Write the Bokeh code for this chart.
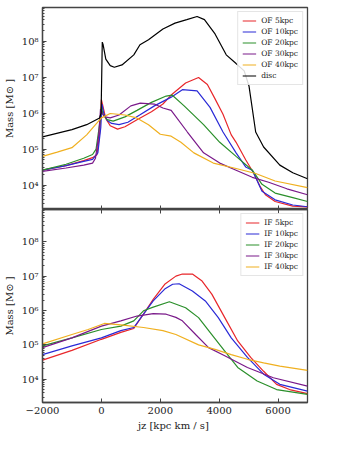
from bokeh.plotting import figure
from bokeh.layouts import column
from bokeh.models import Range1d, FixedTicker, CustomJSTickFormatter, LinearAxis, Legend, LegendItem
from bokeh.embed import file_html
from bokeh.resources import INLINE

# ---------------- data ----------------
disc_x = [-2000, -1000, -500, -60, -10, 30, 60, 150, 300, 440, 700, 1100, 1310, 1600, 2090, 2500, 2900, 3250, 3500, 3860, 4240, 4575, 4850, 5015, 5240, 5510, 6060, 6500, 7000]
disc_y = [2.2e5, 3.5e5, 4.8e5, 7.4e5, 1.0e6, 9.5e7, 8.0e7, 3.2e7, 2.1e7, 1.9e7, 2.2e7, 4.2e7, 8.0e7, 1.1e8, 2.2e8, 3.2e8, 4.0e8, 4.9e8, 4.0e8, 1.6e8, 4.2e7, 2.4e7, 1.5e7, 5.6e6, 3.0e5, 1.15e5, 3.6e4, 2.2e4, 1.5e4]

of5_x = [-2000, -1200, -600, -300, -150, -50, 0, 50, 150, 300, 550, 800, 1210, 1700, 2090, 2370, 2860, 3300, 3600, 3860, 4130, 4410, 4575, 4900, 5180, 5400, 5570, 5900, 6500, 7000]
of5_y = [2.6e4, 3.5e4, 4.8e4, 5.8e4, 7.0e4, 3.2e5, 2.4e6, 1.6e6, 7.0e5, 4.5e5, 3.6e5, 4.2e5, 6.6e5, 1.1e6, 1.8e6, 3.2e6, 6.9e6, 9.8e6, 6.3e6, 2.5e6, 9.3e5, 2.5e5, 1.55e5, 5.1e4, 2.1e4, 8.9e3, 5.4e3, 3.5e3, 2.6e3, 2.5e3]

of10_x = [-2000, -1200, -600, -300, -120, -20, 20, 80, 200, 350, 600, 900, 1300, 1800, 2370, 2750, 3250, 3690, 4130, 4575, 4900, 5125, 5455, 5900, 6500, 7000]
of10_y = [2.6e4, 3.5e4, 4.6e4, 5.2e4, 7.9e4, 4.0e5, 1.8e6, 1.0e6, 6.3e5, 5.2e5, 4.8e5, 5.6e5, 8.9e5, 1.6e6, 2.8e6, 4.5e6, 4.2e6, 1.45e6, 3.0e5, 7.9e4, 3.2e4, 2.6e4, 6.8e3, 3.9e3, 2.8e3, 2.5e3]

of20_x = [-2000, -1200, -600, -300, -180, -60, 0, 60, 200, 400, 800, 1210, 1700, 2200, 2400, 2810, 3470, 4020, 4575, 5125, 5455, 5900, 6500, 7000]
of20_y = [2.6e4, 3.8e4, 5.6e4, 7.1e4, 1.0e5, 5.0e5, 1.45e6, 9.0e5, 6.6e5, 6.0e5, 7.9e5, 1.2e6, 2.0e6, 3.0e6, 3.2e6, 1.6e6, 4.8e5, 1.55e5, 6.3e4, 2.6e4, 1.05e4, 6.0e3, 4.5e3, 3.5e3]

of30_x = [-2000, -1200, -600, -300, -200, -90, -30, 20, 120, 300, 600, 1000, 1320, 1800, 2090, 2370, 2920, 3470, 4020, 4575, 5125, 5680, 6300, 7000]
of30_y = [2.4e4, 3.0e4, 3.6e4, 4.1e4, 5.6e4, 2.5e5, 1.3e6, 1.0e6, 7.9e5, 7.4e5, 8.9e5, 1.6e6, 1.9e6, 1.8e6, 1.4e6, 1.2e6, 3.0e5, 7.9e4, 4.1e4, 2.6e4, 1.65e4, 1.2e4, 7.9e3, 5.4e3]

of40_x = [-2000, -1500, -1000, -500, -200, 0, 300, 800, 1200, 1600, 2000, 2370, 2700, 3140, 3800, 4575, 5240, 5900, 7000]
of40_y = [6.3e4, 8.3e4, 1.1e5, 2.5e5, 4.8e5, 7.4e5, 9.8e5, 8.9e5, 7.4e5, 4.8e5, 2.6e5, 2.3e5, 1.55e5, 7.9e4, 4.1e4, 2.9e4, 2.1e4, 1.3e4, 8.5e3]

if5_x = [-2000, -1000, 0, 660, 1100, 1430, 1760, 2150, 2530, 2750, 3090, 3420, 3750, 4190, 4630, 5070, 5510, 5950, 6390, 7000]
if5_y = [3.6e4, 6.9e4, 1.45e5, 2.3e5, 3.0e5, 7.8e5, 2.1e6, 5.8e6, 1.0e7, 1.15e7, 1.15e7, 7.2e6, 3.0e6, 6.2e5, 1.3e5, 4.3e4, 1.7e4, 7.1e3, 5.0e3, 3.8e3]

if10_x = [-2000, -1000, 0, 660, 1100, 1430, 1760, 2150, 2420, 2640, 3090, 3530, 3970, 4410, 4960, 5510, 6060, 7000]
if10_y = [5.2e4, 9.3e4, 1.6e5, 2.6e5, 3.2e5, 7.8e5, 1.9e6, 4.2e6, 5.8e6, 6.0e6, 3.7e6, 1.9e6, 6.2e5, 1.6e5, 4.3e4, 1.4e4, 7.1e3, 4.5e3]

if20_x = [-2000, -1000, 0, 660, 1100, 1430, 1760, 2310, 2860, 3300, 3750, 4190, 4630, 5290, 5950, 7000]
if20_y = [9.3e4, 1.6e5, 2.8e5, 3.5e5, 5.0e5, 9.8e5, 1.25e6, 1.8e6, 1.2e6, 6.2e5, 2.0e5, 6.6e4, 2.2e4, 8.9e3, 5.0e3, 3.6e3]

if30_x = [-2000, -1000, 0, 660, 1210, 1760, 2200, 2530, 2750, 3200, 3640, 4190, 4960, 5840, 7000]
if30_y = [8.3e4, 1.6e5, 3.5e5, 5.0e5, 6.9e5, 8.1e5, 7.8e5, 6.3e5, 5.0e5, 2.0e5, 8.3e4, 4.8e4, 2.2e4, 1.1e4, 6.3e3]

if40_x = [-2000, -1000, -450, 100, 660, 1430, 2090, 2530, 3300, 3860, 4410, 4960, 5510, 6060, 7000]
if40_y = [1.07e5, 2.0e5, 2.8e5, 4.2e5, 3.8e5, 3.2e5, 2.6e5, 2.0e5, 1.0e5, 7.4e4, 5.2e4, 3.8e4, 3.0e4, 2.4e4, 1.8e4]

top_labels = ["OF 5kpc", "OF 10kpc", "OF 20kpc", "OF 30kpc", "OF 40kpc", "disc"]
bot_labels = ["IF 5kpc", "IF 10kpc", "IF 20kpc", "IF 30kpc", "IF 40kpc"]
colors = ["#e8262a", "#2a2ad6", "#2a8f2a", "#7a1a8a", "#f0b020", "#000000"]

x_ticks = [-2000, 0, 2000, 4000, 6000]
y_ticks = [1e4, 1e5, 1e6, 1e7, 1e8]
y_minor = [m * 10.0 ** e for e in range(3, 9) for m in range(1, 10)]

FONT = "DejaVu Serif"
FRAME = "#444444"

y_fmt = CustomJSTickFormatter(code="""
const sup = {"0":"\u2070","1":"\u00b9","2":"\u00b2","3":"\u00b3","4":"\u2074","5":"\u2075","6":"\u2076","7":"\u2077","8":"\u2078","9":"\u2079","-":"\u207b"};
const e = Math.round(Math.log10(tick));
return "10" + String(e).split("").map(c => sup[c]).join("");
""")
x_fmt = CustomJSTickFormatter(code="""
return tick < 0 ? "\u2212" + Math.abs(tick) : String(tick);
""")


def style_axis(ax, labels=True):
    ax.axis_line_color = FRAME
    ax.axis_line_width = 1.3
    ax.major_tick_line_color = FRAME
    ax.minor_tick_line_color = FRAME
    ax.major_tick_in = 4
    ax.major_tick_out = 0
    ax.minor_tick_in = 2
    ax.minor_tick_out = 0
    ax.major_label_text_font = FONT
    ax.axis_label_text_font = FONT
    ax.axis_label_text_font_style = "normal"
    ax.axis_label_text_color = "#222222"
    ax.major_label_text_color = "#222222"
    ax.major_label_text_font_size = "10px"
    ax.axis_label_text_font_size = "10px"
    if not labels:
        ax.formatter = CustomJSTickFormatter(code="return '';")
        ax.major_label_standoff = 0
        ax.axis_label = None


def make_fig(height, top, bottom):
    p = figure(width=312, height=height, y_axis_type="log",
               x_range=Range1d(-2000, 7000), y_range=Range1d(2.1e3, 8.7e8),
               output_backend="svg", toolbar_location=None,
               min_border_left=35, min_border_right=5,
               min_border_top=top, min_border_bottom=bottom)
    p.xgrid.visible = False
    p.ygrid.visible = False
    p.outline_line_color = FRAME
    p.outline_line_width = 1.3
    p.background_fill_color = "white"
    p.border_fill_color = "white"
    p.xaxis.ticker = FixedTicker(ticks=x_ticks)
    p.xaxis.formatter = x_fmt
    p.yaxis.ticker = FixedTicker(ticks=y_ticks, minor_ticks=y_minor)
    p.yaxis.formatter = y_fmt
    p.yaxis.axis_label = "Mass [M\u2299 ]"
    p.yaxis.major_label_standoff = 4
    p.yaxis.axis_label_standoff = 4
    for ax in p.yaxis:
        style_axis(ax)
    return p


def add_legend(p, renderers, labels):
    items = [LegendItem(label=l, renderers=[r]) for l, r in zip(labels, renderers)]
    leg = Legend(items=items, location="top_right")
    leg.label_text_font = FONT
    leg.label_text_font_size = "7.5px"
    leg.label_text_color = "#222222"
    leg.glyph_width = 14
    leg.glyph_height = 9
    leg.label_height = 9
    leg.label_standoff = 5
    leg.spacing = 2
    leg.padding = 4
    leg.margin = 4
    leg.border_line_color = "#cccccc"
    leg.border_line_width = 1
    leg.background_fill_alpha = 0.85
    p.add_layout(leg, "center")


# ---------------- top panel ----------------
p1 = make_fig(209, 7, 0)
for ax in p1.xaxis:
    style_axis(ax, labels=False)
top_series = [(of5_x, of5_y), (of10_x, of10_y), (of20_x, of20_y), (of30_x, of30_y), (of40_x, of40_y), (disc_x, disc_y)]
r_top = [p1.line(x, y, line_color=c, line_width=1.2) for (x, y), c in zip(top_series, colors)]
add_legend(p1, r_top, top_labels)

# ---------------- bottom panel ----------------
p2 = make_fig(224, 0, 30)
for ax in p2.xaxis:
    style_axis(ax)
p2.xaxis.axis_label = "jz [kpc  km / s]"
p2.xaxis.major_label_standoff = 4
p2.xaxis.axis_label_standoff = 3
top_ax = LinearAxis(ticker=FixedTicker(ticks=x_ticks))
style_axis(top_ax, labels=False)
p2.add_layout(top_ax, "above")
bot_series = [(if5_x, if5_y), (if10_x, if10_y), (if20_x, if20_y), (if30_x, if30_y), (if40_x, if40_y)]
r_bot = [p2.line(x, y, line_color=c, line_width=1.2) for (x, y), c in zip(bot_series, colors[:5])]
add_legend(p2, r_bot, bot_labels)

layout = column(p1, p2, spacing=0)
open("out.html", "w").write(file_html(layout, INLINE))
